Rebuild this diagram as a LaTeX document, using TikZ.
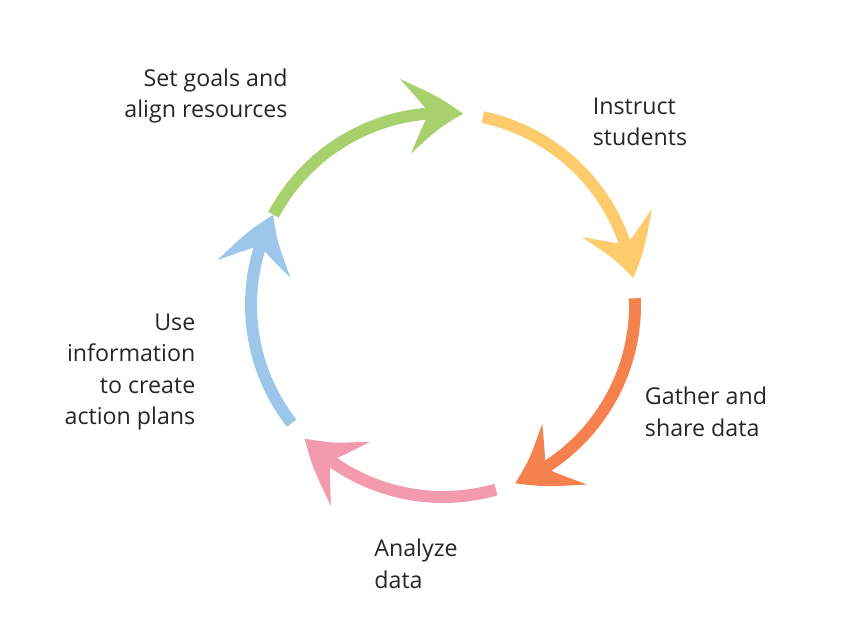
\documentclass[tikz,border=0pt]{standalone}
\usepackage{fontspec}
\setmainfont{Open Sans}
\usetikzlibrary{arrows.meta, bending, positioning}
\definecolor{cGreen}{HTML}{A8D16E}
\definecolor{cYellow}{HTML}{FDCB6B}
\definecolor{cOrange}{HTML}{F5824E}
\definecolor{cPink}{HTML}{F39AAF}
\definecolor{cBlue}{HTML}{9DC7EA}
\tikzset{
    cycleArc/.style={line width=8.5pt, -{Stealth[length=1.45cm, width=1.85cm, inset=0.6cm, bend]}},
    label/.style={font=\fontsize{16.5}{22.5}\selectfont, color=black!85}
}
\begin{document}
\begin{tikzpicture}
        \useasboundingbox (0,0) rectangle (21.1,16);
        % Cycle
        \coordinate (C) at (11.075,8.375);
        \def\R{4.8}
        \foreach \s/\e/\col in {152/84/cGreen, 78/8/cYellow, 2/-68/cOrange, -74/-136/cPink, -142/-208/cBlue}{
            \draw[cycleArc, \col] (C) ++(\s:\R) arc[start angle=\s, end angle=\e, radius=\R];
        }
        % Labels
        \node[label, align=right] (goals) at (5.15,13.6) {Set goals and\\align resources};
        \node[label, align=left] (instruct) at (16.0,12.95) {Instruct\\students};
        \node[label, align=left] (gather) at (17.65,5.7) {Gather and\\share data};
        \node[label, align=left] (analyze) at (10.4,1.9) {Analyze\\data};
        \node[label, align=right] (use) at (3.25,6.7) {Use\\information\\to create\\action plans};
\end{tikzpicture}
\end{document}
